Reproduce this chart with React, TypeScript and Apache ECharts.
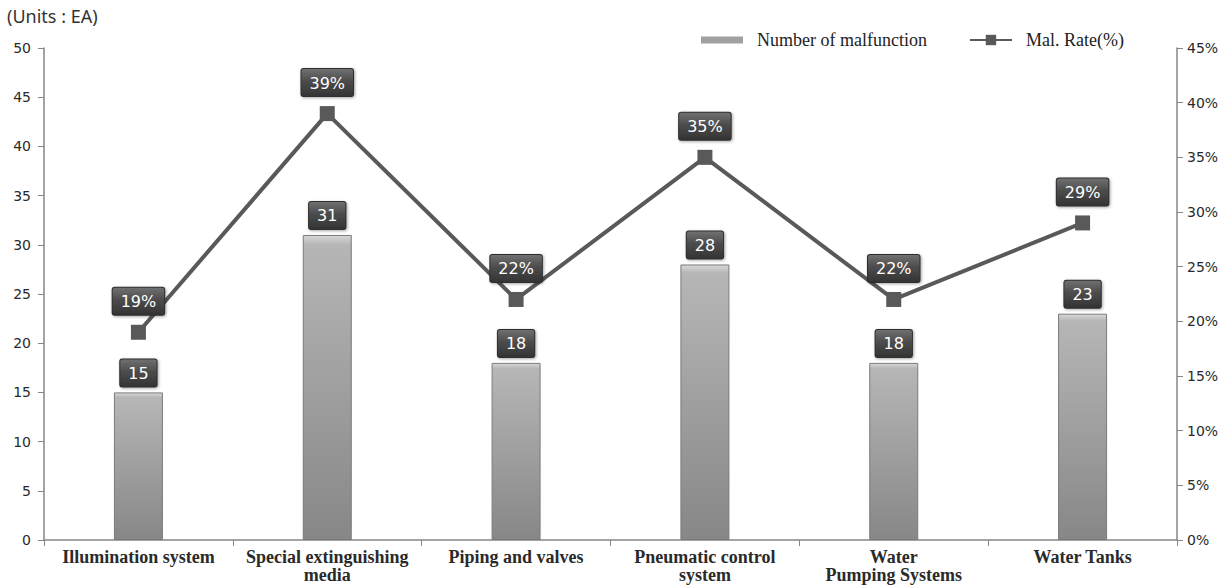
import React, { useEffect, useRef } from "react";
import * as echarts from "echarts";

// Malfunction counts and rates by facility group
const categories = [
  "Illumination system",
  "Special extinguishing\nmedia",
  "Piping and valves",
  "Pneumatic control\nsystem",
  "Water\nPumping Systems",
  "Water Tanks",
];
const malfunctionCounts = [15, 31, 18, 28, 18, 23];
const malRates = [19, 39, 22, 35, 22, 29];
const leftTicks = { min: 0, max: 50, interval: 5 };
const rightTicks = { min: 0, max: 45, interval: 5 };

const axisGray = "#868686";
const lineGray = "#595959";

const darkTag = {
  color: "#ffffff",
  fontFamily: "DejaVu Sans",
  fontSize: 16,
  backgroundColor: {
    type: "linear",
    x: 0,
    y: 0,
    x2: 0,
    y2: 1,
    colorStops: [
      { offset: 0, color: "#707070" },
      { offset: 0.45, color: "#4c4c4c" },
      { offset: 1, color: "#343434" },
    ],
  },
  borderColor: "#2e2e2e",
  borderWidth: 1,
  borderRadius: 2,
  padding: [6, 8, 5, 8],
  shadowColor: "rgba(0,0,0,0.35)",
  shadowBlur: 3,
  shadowOffsetX: 1,
  shadowOffsetY: 1,
};

const barFill = {
  type: "linear",
  x: 0,
  y: 0,
  x2: 0,
  y2: 1,
  colorStops: [
    { offset: 0, color: "#d8d8d8" },
    { offset: 0.03, color: "#b6b6b6" },
    { offset: 1, color: "#878787" },
  ],
};

// Thin bar swatch centred in a taller legend cell
const thinBarIcon =
  "path://M0,0h0.01v0.01h-0.01z M0,3h42v7h-42z M0,12.99h0.01v0.01h-0.01z";

export default function App() {
  const ref = useRef<HTMLDivElement>(null);

  useEffect(() => {
    if (!ref.current) return;
    const chart = echarts.init(ref.current, undefined, { renderer: "svg" });
    chart.setOption({
      animation: false,
      backgroundColor: "#ffffff",
      grid: { left: 44, right: 53, top: 48, bottom: 47, containLabel: false },
      graphic: [
        {
          type: "text",
          left: 7,
          top: 7,
          style: {
            text: "(Units : EA)",
            fontFamily: "Noto Sans",
            fontSize: 18,
            fill: "#333333",
          },
        },
      ],
      legend: {
        top: 26,
        left: 696,
        itemGap: 42,
        itemWidth: 42,
        itemHeight: 13,
        textStyle: {
          fontFamily: "Liberation Serif",
          fontSize: 18,
          color: "#222222",
          padding: [0, 0, 0, 9],
        },
        data: [
          {
            name: "Number of malfunction",
            icon: thinBarIcon,
            itemStyle: { borderWidth: 0, color: "#a0a0a0" },
          },
          { name: "Mal. Rate(%)" },
        ],
      },
      xAxis: {
        type: "category",
        data: categories,
        axisLine: { lineStyle: { color: axisGray, width: 1.5 } },
        axisTick: { show: true, alignWithLabel: false, length: 6, lineStyle: { color: axisGray } },
        axisLabel: {
          interval: 0,
          margin: 8,
          fontFamily: "Liberation Serif",
          fontWeight: "bold",
          fontSize: 18,
          lineHeight: 18,
          color: "#2a2a2a",
        },
      },
      yAxis: [
        {
          type: "value",
          min: leftTicks.min,
          max: leftTicks.max,
          interval: leftTicks.interval,
          splitLine: { show: false },
          axisLine: { show: true, lineStyle: { color: axisGray, width: 1.5 } },
          axisTick: { show: true, length: 6, lineStyle: { color: axisGray } },
          axisLabel: {
            margin: 13,
            fontFamily: "DejaVu Sans",
            fontSize: 14,
            color: "#2a2a2a",
          },
        },
        {
          type: "value",
          min: rightTicks.min,
          max: rightTicks.max,
          interval: rightTicks.interval,
          position: "right",
          splitLine: { show: false },
          axisLine: { show: true, lineStyle: { color: axisGray, width: 1.5 } },
          axisTick: { show: true, length: 6, lineStyle: { color: axisGray } },
          axisLabel: {
            margin: 10,
            formatter: "{value}%",
            fontFamily: "DejaVu Sans",
            fontSize: 14,
            color: "#2a2a2a",
          },
        },
      ],
      series: [
        {
          name: "Number of malfunction",
          type: "bar",
          yAxisIndex: 0,
          data: malfunctionCounts,
          barWidth: 49,
          itemStyle: {
            color: barFill,
            borderColor: "#7a7a7a",
            borderWidth: 1,
          },
          label: {
            show: true,
            position: "top",
            distance: 6,
            ...darkTag,
          },
          z: 2,
        },
        {
          name: "Mal. Rate(%)",
          type: "line",
          yAxisIndex: 1,
          data: malRates,
          symbol: "rect",
          symbolSize: 15,
          lineStyle: { color: lineGray, width: 4 },
          itemStyle: { color: lineGray },
          label: {
            show: true,
            position: "top",
            distance: 10,
            formatter: "{c}%",
            ...darkTag,
          },
          z: 3,
        },
      ],
    });
    return () => chart.dispose();
  }, []);

  return (
    <div
      ref={ref}
      style={{ position: "absolute", left: 0, top: 0, width: 1230, height: 587 }}
    />
  );
}
